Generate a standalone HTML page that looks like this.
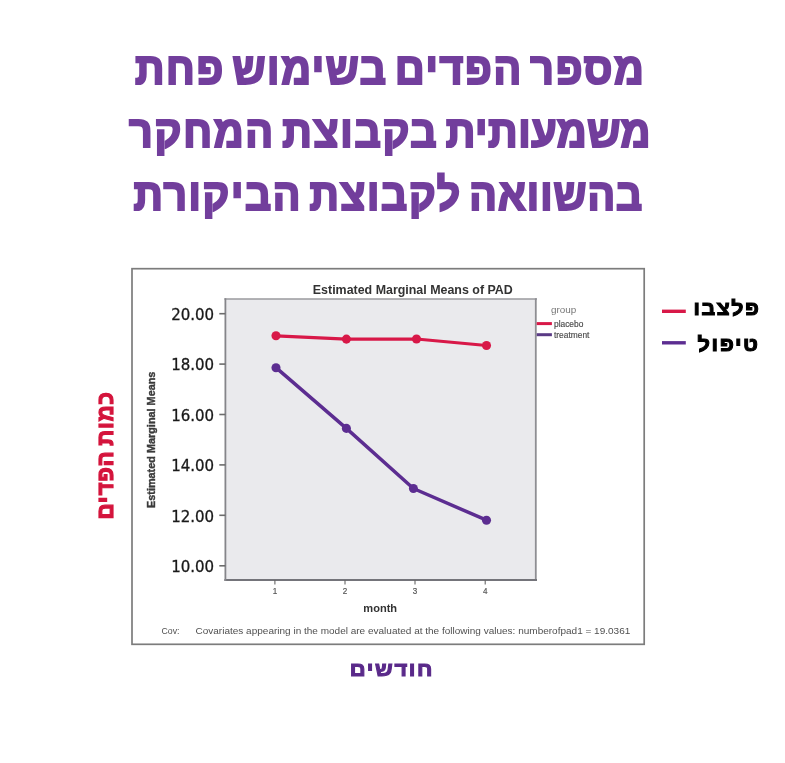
<!DOCTYPE html>
<html lang="he">
<head>
<meta charset="utf-8">
<title>מספר הפדים בשימוש</title>
<style>
html,body{margin:0;padding:0;background:#fff;}
body{width:785px;height:763px;position:relative;overflow:hidden;font-family:"Liberation Sans","DejaVu Sans",sans-serif;}
.heb{position:absolute;direction:rtl;font-weight:bold;white-space:nowrap;line-height:1;font-family:"Liberation Sans","DejaVu Sans",sans-serif;}
.title{color:#723e9c;font-size:44px;-webkit-text-stroke:2.2px #723e9c;word-spacing:-6px;letter-spacing:1.8px;transform-origin:0 0;left:0;}
#t1{top:47.1px;transform:translateX(135px) scale(0.932,0.996);}
#t2{top:110.2px;transform:translateX(129.1px) scale(0.936,0.996);}
#t3{top:172.5px;transform:translateX(133.6px) scale(0.9285,0.996);}
.leg{color:#000;font-size:20.5px;-webkit-text-stroke:1.05px #000;letter-spacing:1.5px;word-spacing:-2px;transform-origin:100% 0;right:26.5px;}
#l1{top:297.7px;right:24.8px;transform:scaleX(1.04);}
#l2{top:333.6px;right:25.1px;transform:scaleX(1.06);}
#xl{color:#5a2a8a;font-size:20.2px;-webkit-text-stroke:1.05px #5a2a8a;letter-spacing:1.5px;word-spacing:-2px;transform-origin:0 0;left:0;top:658.5px;transform:translateX(349.8px) scaleX(1.088);}
#yl{color:#d4143c;font-size:23.6px;-webkit-text-stroke:1.18px #d4143c;letter-spacing:0.8px;word-spacing:-2.4px;transform-origin:0 0;left:0;top:0;transform:translate(94.4px,519.6px) rotate(-90deg) scaleX(0.95);}
svg{position:absolute;left:0;top:0;}
</style>
</head>
<body>
<div class="heb title" id="t1">מספר הפדים בשימוש פחת</div>
<div class="heb title" id="t2"><span style="letter-spacing:0.6px">משמעותית</span> בקבוצת המחקר</div>
<div class="heb title" id="t3"><span style="letter-spacing:1.1px">בהשוואה</span> לקבוצת הביקורת</div>
<svg width="785" height="763" viewBox="0 0 785 763" font-family="Liberation Sans, DejaVu Sans, sans-serif">
<g>
<!-- outer frame -->
<rect x="132" y="268.7" width="512.2" height="375.6" fill="#fff" stroke="#7c7c7c" stroke-width="1.7"/>
<!-- plot area -->
<rect x="225.4" y="299" width="310.4" height="281" fill="#eaeaed"/>
<line x1="224.4" y1="299" x2="537" y2="299" stroke="#9a9a9e" stroke-width="1.6"/>
<line x1="535.8" y1="298.2" x2="535.8" y2="581" stroke="#8e8e93" stroke-width="1.8"/>
<line x1="224.4" y1="580" x2="537" y2="580" stroke="#74747a" stroke-width="2"/>
<line x1="225.4" y1="298.2" x2="225.4" y2="581" stroke="#85858a" stroke-width="1.8"/>
<!-- y ticks -->
<g stroke="#6c6c6c" stroke-width="1.6">
<line x1="219.3" y1="313.7" x2="225.4" y2="313.7"/>
<line x1="219.3" y1="364.1" x2="225.4" y2="364.1"/>
<line x1="219.3" y1="414.5" x2="225.4" y2="414.5"/>
<line x1="219.3" y1="464.9" x2="225.4" y2="464.9"/>
<line x1="219.3" y1="515.3" x2="225.4" y2="515.3"/>
<line x1="219.3" y1="565.8" x2="225.4" y2="565.8"/>
</g>
<g stroke="#666" stroke-width="1.1">
<line x1="274.9" y1="580" x2="274.9" y2="584.4"/>
<line x1="345" y1="580" x2="345" y2="584.4"/>
<line x1="415" y1="580" x2="415" y2="584.4"/>
<line x1="485.2" y1="580" x2="485.2" y2="584.4"/>
</g>
<g font-family="DejaVu Sans, Liberation Sans, sans-serif" font-size="15" fill="#1a1a1a" stroke="#1a1a1a" stroke-width="0.3">
<text x="171.2" y="319.9" textLength="43" lengthAdjust="spacingAndGlyphs">20.00</text>
<text x="171.2" y="370.3" textLength="43" lengthAdjust="spacingAndGlyphs">18.00</text>
<text x="171.2" y="420.7" textLength="43" lengthAdjust="spacingAndGlyphs">16.00</text>
<text x="171.2" y="471.1" textLength="43" lengthAdjust="spacingAndGlyphs">14.00</text>
<text x="171.2" y="521.5" textLength="43" lengthAdjust="spacingAndGlyphs">12.00</text>
<text x="171.2" y="572.0" textLength="43" lengthAdjust="spacingAndGlyphs">10.00</text>
</g>
<g font-size="9.3" fill="#555" stroke="#555" stroke-width="0.2">
<text x="272.8" y="593.8" textLength="4.5" lengthAdjust="spacingAndGlyphs">1</text>
<text x="342.8" y="593.8" textLength="4.5" lengthAdjust="spacingAndGlyphs">2</text>
<text x="412.8" y="593.8" textLength="4.5" lengthAdjust="spacingAndGlyphs">3</text>
<text x="483.0" y="593.8" textLength="4.5" lengthAdjust="spacingAndGlyphs">4</text>
</g>
<text x="312.8" y="293.6" font-size="11.9" font-weight="bold" fill="#333" textLength="200" lengthAdjust="spacingAndGlyphs">Estimated Marginal Means of PAD</text>
<text x="363.3" y="611.6" font-size="10.8" font-weight="bold" fill="#333" textLength="33.8" lengthAdjust="spacingAndGlyphs">month</text>
<text transform="translate(155.2,508) rotate(-90)" font-size="11.5" font-weight="bold" fill="#3a3a3a" stroke="#3a3a3a" stroke-width="0.4" textLength="136.4" lengthAdjust="spacingAndGlyphs">Estimated Marginal Means</text>
<text x="161.5" y="634" font-size="9.3" fill="#505050" textLength="18" lengthAdjust="spacingAndGlyphs">Cov:</text>
<text x="195.5" y="634" font-size="9.3" fill="#505050" textLength="434.8" lengthAdjust="spacingAndGlyphs">Covariates appearing in the model are evaluated at the following values: numberofpad1 = 19.0361</text>
<!-- inner legend -->
<text x="550.9" y="312.7" font-size="9.9" fill="#777">group</text>
<line x1="536.7" y1="323.6" x2="551.9" y2="323.6" stroke="#d81848" stroke-width="3"/>
<line x1="536.7" y1="334.7" x2="551.9" y2="334.7" stroke="#5a3a85" stroke-width="3"/>
<text x="554" y="326.7" font-size="8.4" fill="#4a4a4a" stroke="#4a4a4a" stroke-width="0.15">placebo</text>
<text x="554" y="337.5" font-size="8.4" fill="#4a4a4a" stroke="#4a4a4a" stroke-width="0.15">treatment</text>
<!-- data -->
<polyline points="276,335.8 346.4,339.1 416.5,339 486.5,345.5" fill="none" stroke="#d81848" stroke-width="3.2" stroke-linejoin="round"/>
<g fill="#d81848">
<circle cx="276" cy="335.8" r="4.55"/><circle cx="346.4" cy="339.1" r="4.55"/><circle cx="416.5" cy="339" r="4.55"/><circle cx="486.5" cy="345.5" r="4.55"/>
</g>
<polyline points="276,367.7 346.4,428.4 413.4,488.5 486.5,520.2" fill="none" stroke="#5c2d91" stroke-width="3.5" stroke-linejoin="round"/>
<g fill="#5c2d91">
<circle cx="276" cy="367.7" r="4.55"/><circle cx="346.4" cy="428.4" r="4.55"/><circle cx="413.4" cy="488.5" r="4.5"/><circle cx="486.5" cy="520.2" r="4.55"/>
</g>
</g>
<!-- outer legend dashes -->
<line x1="662" y1="311.3" x2="685.8" y2="311.3" stroke="#d81848" stroke-width="3.4"/>
<line x1="662" y1="342.8" x2="685.8" y2="342.8" stroke="#5c2d91" stroke-width="3.4"/>
</svg>
<div class="heb leg" id="l1">פלצבו</div>
<div class="heb leg" id="l2">טיפול</div>
<div class="heb" id="xl">חודשים</div>
<div class="heb" id="yl">כמות הפדים</div>
</body>
</html>
